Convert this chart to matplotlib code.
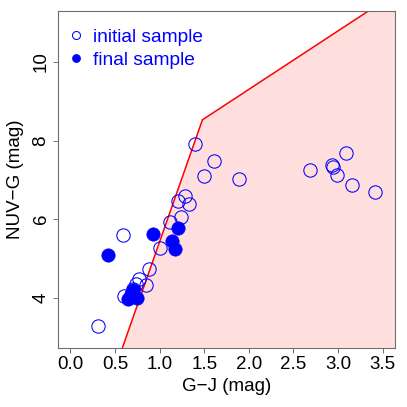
import matplotlib

matplotlib.use("Agg")
import matplotlib.pyplot as plt

plt.rcParams["font.family"] = ["Liberation Sans", "DejaVu Sans"]

# initial sample (open circles)
init_gj = [1.40, 1.61, 1.50, 1.89, 2.69, 2.93, 2.94, 3.09, 2.99, 3.16, 3.42,
           1.28, 1.21, 1.33, 1.24, 1.12, 0.59, 1.00, 0.88, 0.77, 0.74, 0.85,
           0.70, 0.60, 0.31]
init_nuv = [7.92, 7.47, 7.11, 7.02, 7.24, 7.38, 7.33, 7.68, 7.13, 6.86, 6.68,
            6.60, 6.45, 6.39, 6.05, 5.92, 5.59, 5.27, 4.72, 4.47, 4.36, 4.32,
            4.23, 4.04, 3.28]

# final sample (filled circles)
final_gj = [0.42, 0.92, 1.21, 1.14, 1.17, 0.70, 0.64, 0.75, 0.68]
final_nuv = [5.10, 5.62, 5.78, 5.45, 5.24, 4.19, 3.96, 4.00, 4.10]

# selection boundary
cut_gj = [0.47, 1.48, 4.0]
cut_nuv = [2.0, 8.53, 12.28]

blue = "#0000FF"
grey = "#6E6E6E"

fig = plt.figure(figsize=(4.07, 4.07), dpi=100)
ax = fig.add_axes([58 / 407, 1 - 348 / 407, 337 / 407, 337 / 407])

ax.fill(cut_gj + [cut_gj[-1]], cut_nuv + [cut_nuv[0]], color="#FFDEDE", lw=0, zorder=0)
ax.plot(cut_gj, cut_nuv, color="red", lw=1.1, zorder=1)

ax.plot(init_gj, init_nuv, "o", mfc="none", mec=blue, mew=0.75, ms=9.6, zorder=2,
        label="initial sample")
ax.plot(final_gj, final_nuv, "o", mfc=blue, mec=blue, mew=0.5, ms=9.6, zorder=3,
        label="final sample")

ax.set_xlim(-0.14, 3.64)
ax.set_ylim(2.72, 11.30)
ax.set_xticks([0.0, 0.5, 1.0, 1.5, 2.0, 2.5, 3.0, 3.5])
ax.set_xticklabels(["0.0", "0.5", "1.0", "1.5", "2.0", "2.5", "3.0", "3.5"])
ax.set_yticks([4, 6, 8, 10])

for spine in ax.spines.values():
    spine.set_color(grey)
    spine.set_linewidth(0.8)
ax.tick_params(length=3.6, width=0.7, color=grey, labelsize=13.5, pad=2.5)
ax.tick_params(axis="y", labelrotation=90)
for lab in ax.get_yticklabels():
    lab.set_va("center")

ax.set_xlabel("G\u2212J (mag)", fontsize=13.5, va="center")
ax.xaxis.set_label_coords(0.5, -0.113)
ax.set_ylabel("NUV\u2212G (mag)", fontsize=13.5, va="center")
ax.yaxis.set_label_coords(-0.125, 0.5)

leg = ax.legend(loc="upper left", bbox_to_anchor=(0.030, 0.949), borderaxespad=0,
                borderpad=0, frameon=False, fontsize=13.8, labelcolor=blue,
                handlelength=0.8, handletextpad=0.52, labelspacing=0.3,
                markerscale=0.6)

fig.savefig("out.png", dpi=100)
